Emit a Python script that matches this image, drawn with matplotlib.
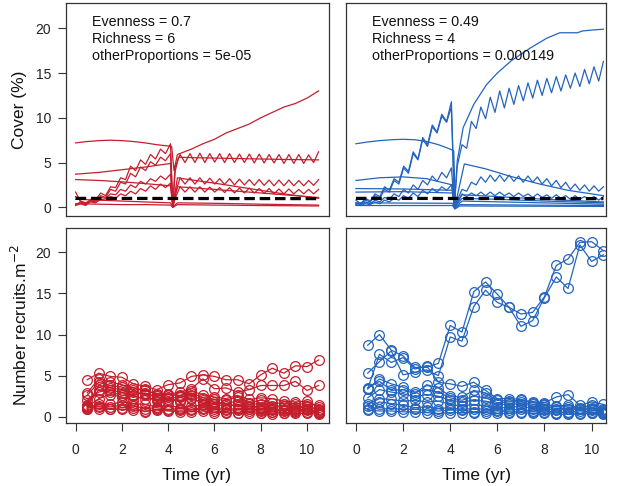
import numpy as np
import matplotlib
matplotlib.use("Agg")
import matplotlib.pyplot as plt

plt.rcParams['font.family'] = ['Liberation Sans', 'DejaVu Sans']

RED = '#C41E2D'
BLUE = '#2364BE'

# ---------------- data: top panels (cover %) ----------------
drop_t_red = 4.2
drop_t_blue = 4.18
red_t_pre = np.linspace(0, 4.1, 20)
red_t_post = np.linspace(4.3, 10.5, 30)
blue_t_pre = np.linspace(0, 4.05, 21)
blue_t_post = np.linspace(4.3, 10.5, 32)

# red (Evenness 0.7)
RA_t = [0, 0.5, 1, 1.5, 2, 2.5, 3, 3.5, 4.0, 4.15, 4.25, 4.4, 4.6, 5, 5.5, 6, 6.5, 7, 7.5, 8, 8.5, 9, 9.5, 10, 10.5]
RA_v = [7.2, 7.35, 7.45, 7.5, 7.45, 7.35, 7.2, 7.0, 6.85, 6.8, 4.1, 5.9, 6.1, 6.5, 7.1, 7.6, 8.3, 8.8, 9.3, 10.0, 10.6, 11.2, 11.6, 12.2, 13.0]

RB_pre = [0.3, 0.6, 0.3, 0.9, 0.8, 1.6, 1.3, 2.3, 2.2, 3.3, 3.1, 4.6, 4.1, 5.3, 4.8, 5.9, 5.4, 6.5, 6.0, 7.1]
RB_drop = 0.2
RB_post = [4.5, 5.9, 5.0, 6.0, 5.0, 6.05, 5.0, 6.0, 5.05, 6.0, 5.0, 6.0, 5.0, 5.95, 5.0,
           5.95, 4.95, 5.95, 4.95, 5.9, 4.95, 5.9, 4.9, 5.9, 4.9, 5.9, 4.9, 5.85, 5.0, 6.2]

RC_pre = [0.2, 0.4, 0.2, 0.7, 0.6, 1.3, 1.1, 2.0, 1.8, 2.8, 2.6, 3.8, 3.4, 4.5, 4.1, 5.1, 4.7, 5.6, 5.2, 6.0]
RC_drop = 0.1
RC_post_t = [4.3, 4.45, 5, 6, 7, 8, 9, 10.5]
RC_post_v = [4.0, 5.6, 5.55, 5.5, 5.45, 5.4, 5.35, 5.3]

RD_t = [0, 1, 2, 3, 4.1, 4.2, 4.4, 4.9, 6, 7, 8, 9, 10.5]
RD_v = [3.7, 3.9, 4.2, 4.5, 4.9, 0.1, 3.3, 3.1, 2.7, 2.3, 1.9, 1.5, 1.0]

RE_t = [0, 1, 2, 3, 4.1, 4.2, 4.4, 6, 8, 10.5]
RE_v = [3.1, 3.0, 2.85, 2.65, 2.4, 0.05, 2.3, 2.0, 1.6, 1.1]

RF_pre = [1.2, 0.7, 0.5, 0.8, 0.7, 1.1, 1.0, 1.5, 1.4, 2.0, 1.8, 2.5, 2.2, 2.9, 2.6, 3.2, 2.9, 3.5, 3.1, 3.7]
RF_drop = 0.0
RF_post = [1.5, 3.3, 2.6, 3.3, 2.6, 3.3, 2.6, 3.25, 2.6, 3.2, 2.55, 3.2, 2.5, 3.15, 2.5,
           3.1, 2.45, 3.1, 2.45, 3.05, 2.4, 3.05, 2.4, 3.05, 2.4, 3.0, 2.4, 3.0, 2.45, 3.1]

RG_pre = [1.7, 0.6, 0.4, 0.6, 0.5, 0.9, 0.8, 1.2, 1.0, 1.5, 1.3, 1.8, 1.5, 2.1, 1.8, 2.4, 2.0, 2.6, 2.2, 2.7]
RG_drop = 0.0
RG_post = [1.0, 2.3, 1.7, 2.3, 1.7, 2.3, 1.7, 2.25, 1.7, 2.2, 1.65, 2.2, 1.6, 2.15, 1.6,
           2.15, 1.6, 2.1, 1.55, 2.1, 1.5, 2.05, 1.5, 2.05, 1.5, 2.0, 1.5, 2.0, 1.5, 2.0]

RH_t = [0, 1, 2, 3, 4.1, 4.2, 4.4, 6, 8, 10.5]
RH_v = [0.9, 0.8, 0.7, 0.6, 0.5, 0.05, 0.5, 0.45, 0.35, 0.25]
RI_t = [0, 1, 2, 3, 4.1, 4.2, 4.4, 6, 8, 10.5]
RI_v = [0.4, 0.35, 0.3, 0.3, 0.25, 0.0, 0.3, 0.25, 0.2, 0.15]

dash_t = [0, 10.5]
red_dash_v = [1.0, 0.97]
blue_dash_v = [1.0, 0.97]

# blue (Evenness 0.49)
BA_t = [0, 0.5, 1, 1.5, 2, 2.5, 3, 3.5, 4.0, 4.15, 4.22, 4.6, 5.5, 6.5, 7.8, 9, 10.5]
BA_v = [7.1, 7.3, 7.45, 7.55, 7.6, 7.55, 7.35, 7.0, 6.5, 6.3, 0.3, 4.85, 4.3, 3.5, 2.6, 1.9, 1.3]

BB_pre = [0.8, 0.4, 1.0, 0.7, 1.5, 1.2, 2.3, 1.9, 3.2, 2.8, 4.6, 4.0, 6.2, 5.4, 7.8, 7.0, 9.2, 8.4, 10.4, 9.6, 11.8]
BB_drop = 0.2
BB_post = [4.6, 7.0, 6.6, 9.6, 8.8, 11.2, 9.9, 12.3, 10.6, 13.0, 11.1, 13.3, 11.5, 13.6, 11.9, 13.9,
           12.2, 14.2, 12.5, 14.4, 12.8, 14.6, 13.0, 14.8, 13.3, 15.0, 13.5, 15.4, 13.8, 15.7, 14.1, 16.3]

BC_pre = [0.5, 0.3, 0.8, 0.6, 1.3, 1.0, 2.0, 1.7, 3.0, 2.6, 4.4, 3.8, 6.0, 5.3, 7.6, 6.8, 9.0, 8.3, 10.2, 9.5, 11.2]
BC_drop = 0.3
BC_post_t = [4.3, 4.55, 5.0, 5.54, 6.0, 6.6, 7.0, 7.4, 8.1, 8.65, 9.0, 9.4, 9.6, 10.0, 10.5]
BC_post_v = [5.2, 8.9, 11.5, 13.7, 15.0, 16.4, 17.1, 17.8, 18.9, 19.5, 19.5, 19.5, 19.7, 19.8, 19.9]

BD_pre_t = [0, 1, 2, 3, 4.1]
BD_pre_v = [3.0, 3.3, 3.4, 3.2, 2.5]
BD_drop = 0.1
BD_post = [0.8, 2.0, 1.8, 2.8, 2.5, 3.4, 2.8, 3.6, 2.9, 3.6, 2.9, 3.6, 2.9, 3.5, 2.8, 3.5,
           2.8, 3.4, 2.6, 3.2, 2.4, 3.0, 2.2, 2.8, 2.0, 2.6, 1.9, 2.5, 1.8, 2.4, 1.8, 2.3]

BE_pre = [0.4, 0.3, 0.6, 0.4, 0.8, 0.6, 1.1, 0.9, 1.5, 1.2, 2.0, 1.6, 2.5, 2.0, 3.0, 2.5, 3.5, 2.9, 3.9, 3.3, 4.4]
BE_drop = 0.1
BE_post = [0.5, 1.5, 1.2, 1.6, 1.3, 1.7, 1.3, 1.7, 1.3, 1.7, 1.3, 1.6, 1.2, 1.6, 1.2, 1.5,
           1.1, 1.5, 1.1, 1.4, 1.0, 1.4, 1.0, 1.3, 0.9, 1.3, 0.9, 1.2, 0.9, 1.2, 0.8, 1.2]

BF_pre = [0.3, 0.2, 0.4, 0.3, 0.6, 0.4, 0.8, 0.6, 1.0, 0.8, 1.3, 1.0, 1.6, 1.2, 1.9, 1.5, 2.1, 1.7, 2.3, 1.9, 2.5]
BF_drop = 0.0
BF_post_t = [4.5, 6, 8, 10.5]
BF_post_v = [1.4, 1.2, 0.9, 0.6]

BG_t = [0, 2, 4.1, 4.2, 4.5, 6, 8, 10.5]
BG_v = [2.1, 2.05, 1.9, 0.1, 1.0, 0.9, 0.7, 0.5]
BH_t = [0, 2, 4.1, 4.2, 4.5, 10.5]
BH_v = [1.7, 1.75, 1.6, 0.0, 0.7, 0.35]
BI_t = [0, 4.1, 4.2, 4.4, 10.5]
BI_v = [0.5, 0.45, -0.1, 0.3, 0.2]
BJ_t = [0, 4.1, 4.2, 4.4, 10.5]
BJ_v = [0.2, 0.2, -0.2, 0.15, 0.1]

# ---------------- data: bottom panels (recruits) ----------------
rec_t = np.arange(0.5, 10.51, 0.5)
red_recruits = [
    [4.5, 5.3, 4.9, 4.8, 4.0, 3.7, 3.3, 3.9, 4.1, 4.9, 5.1, 4.9, 4.5, 4.5, 4.0, 5.1, 5.9, 5.3, 6.2, 6.1, 6.9],
    [2.9, 4.6, 4.2, 3.9, 3.5, 3.2, 2.8, 2.7, 3.0, 3.4, 4.6, 3.4, 3.5, 3.0, 3.3, 3.8, 3.8, 3.8, 4.3, 3.2, 3.8],
    [2.6, 4.2, 3.8, 3.6, 3.2, 3.4, 2.6, 2.8, 2.5, 3.1, 2.7, 2.4, 2.2, 2.6, 2.1, 2.3, 2.2, 1.9, 1.8, 1.9, 1.2],
    [1.4, 3.8, 3.5, 3.3, 3.0, 2.8, 2.5, 2.7, 2.6, 2.9, 2.3, 2.1, 2.0, 2.4, 1.7, 2.0, 1.7, 1.6, 1.6, 1.5, 1.4],
    [1.3, 3.3, 3.0, 2.6, 2.5, 2.2, 2.1, 2.2, 2.4, 2.6, 2.0, 1.8, 1.6, 1.9, 1.5, 1.6, 1.3, 1.3, 1.2, 1.3, 0.9],
    [1.2, 2.2, 2.7, 2.4, 2.0, 2.6, 1.9, 1.9, 2.0, 2.1, 1.8, 1.5, 1.3, 1.5, 1.3, 1.2, 1.1, 1.3, 1.0, 1.2, 0.8],
    [1.0, 1.6, 1.5, 1.8, 1.6, 1.5, 1.2, 1.4, 1.1, 1.3, 1.4, 1.2, 0.9, 1.0, 1.0, 0.8, 0.9, 0.7, 0.9, 0.9, 0.6],
    [1.2, 1.3, 1.2, 1.4, 1.3, 1.0, 1.1, 0.9, 1.0, 0.9, 1.1, 0.9, 0.8, 0.8, 0.9, 0.7, 0.6, 0.8, 0.7, 0.8, 0.5],
    [1.1, 1.2, 1.0, 1.1, 1.1, 0.6, 0.9, 0.8, 0.8, 0.8, 0.9, 0.7, 0.6, 0.5, 0.7, 0.5, 0.6, 0.5, 0.6, 0.6, 0.4],
    [2.0, 3.0, 3.3, 2.9, 2.7, 2.9, 2.3, 2.4, 1.8, 2.3, 1.6, 1.6, 1.6, 1.2, 1.2, 1.0, 0.8, 1.0, 0.8, 0.9, 0.7],
    [0.9, 1.0, 0.9, 0.9, 0.8, 0.7, 0.8, 0.7, 0.6, 0.6, 0.7, 0.5, 0.5, 0.4, 0.5, 0.4, 0.3, 0.4, 0.4, 0.4, 0.3],
]
blue_recruits = [
    [8.7, 10.0, 8.1, 7.4, 6.0, 6.0, 6.5, 11.1, 10.3, 15.2, 16.4, 14.9, 13.3, 12.5, 12.7, 14.6, 18.4, 19.2, 21.2, 21.3, 20.2],
    [5.3, 6.7, 8.0, 5.1, 5.4, 5.7, 5.0, 9.7, 9.2, 13.4, 15.4, 13.9, 13.3, 11.0, 11.7, 14.5, 17.0, 15.6, 20.9, 18.9, 19.7],
    [3.4, 7.6, 6.6, 7.2, 5.8, 6.2, 4.2, 4.0, 3.7, 4.2, 3.2, 2.2, 2.2, 2.1, 1.8, 1.7, 2.4, 2.7, 1.4, 1.8, 1.5],
    [3.5, 4.3, 3.2, 3.3, 2.8, 3.9, 3.5, 2.5, 2.4, 3.2, 2.9, 2.0, 1.9, 2.0, 1.7, 1.5, 1.3, 1.4, 1.1, 1.4, 1.0],
    [3.4, 4.6, 4.0, 3.6, 3.0, 3.3, 3.0, 2.3, 2.0, 2.5, 2.3, 1.7, 1.8, 1.8, 1.5, 1.4, 1.2, 1.2, 1.0, 1.1, 0.8],
    [2.3, 3.3, 3.0, 2.8, 2.4, 2.7, 2.5, 2.0, 1.8, 2.0, 1.9, 1.5, 1.5, 1.6, 1.3, 1.2, 1.0, 1.0, 0.9, 1.0, 0.7],
    [1.5, 2.2, 2.1, 1.9, 2.0, 1.8, 1.9, 1.5, 1.3, 1.5, 1.3, 1.1, 1.1, 1.3, 1.0, 1.0, 0.8, 0.9, 0.9, 0.8, 0.6],
    [1.0, 1.8, 1.6, 1.4, 1.1, 1.2, 1.0, 1.1, 0.9, 1.0, 0.9, 0.8, 0.8, 0.9, 0.7, 0.8, 0.5, 0.6, 0.7, 0.6, 0.4],
    [1.3, 0.9, 1.0, 0.9, 0.9, 0.8, 0.7, 0.8, 0.8, 0.6, 0.7, 0.7, 0.6, 0.6, 0.6, 0.6, 0.5, 0.5, 0.4, 0.5, 0.5],
    [0.8, 0.7, 0.7, 0.6, 0.6, 0.5, 0.4, 0.5, 0.5, 0.5, 0.5, 0.4, 0.4, 0.5, 0.4, 0.4, 0.3, 0.3, 0.3, 0.4, 0.3],
]

red_text = ["Evenness = 0.7", "Richness = 6", "otherProportions = 5e-05"]
blue_text = ["Evenness = 0.49", "Richness = 4", "otherProportions = 0.000149"]
x_ticks = [0, 2, 4, 6, 8, 10]
y_ticks = [0, 5, 10, 15, 20]


def join(*parts):
    t, v = [], []
    for pt, pv in parts:
        t += list(pt)
        v += list(pv)
    return t, v


red_lines = [
    (RA_t, RA_v),
    join((red_t_pre, RB_pre), ([drop_t_red], [RB_drop]), (red_t_post, RB_post)),
    join((red_t_pre, RC_pre), ([drop_t_red], [RC_drop]), (RC_post_t, RC_post_v)),
    (RD_t, RD_v),
    (RE_t, RE_v),
    join((red_t_pre, RF_pre), ([drop_t_red], [RF_drop]), (red_t_post, RF_post)),
    join((red_t_pre, RG_pre), ([drop_t_red], [RG_drop]), (red_t_post, RG_post)),
    (RH_t, RH_v),
    (RI_t, RI_v),
]
blue_lines = [
    (BA_t, BA_v),
    join((blue_t_pre, BB_pre), ([drop_t_blue], [BB_drop]), (blue_t_post, BB_post)),
    join((blue_t_pre, BC_pre), ([drop_t_blue], [BC_drop]), (BC_post_t, BC_post_v)),
    join((BD_pre_t, BD_pre_v), ([drop_t_blue], [BD_drop]), (blue_t_post, BD_post)),
    join((blue_t_pre, BE_pre), ([drop_t_blue], [BE_drop]), (blue_t_post, BE_post)),
    join((blue_t_pre, BF_pre), ([drop_t_blue], [BF_drop]), (BF_post_t, BF_post_v)),
    (BG_t, BG_v),
    (BH_t, BH_v),
    (BI_t, BI_v),
    (BJ_t, BJ_v),
]

W, H = 617, 486
fig = plt.figure(figsize=(W / 100, H / 100), dpi=100)


def ax_at(l, r, top, bot):
    return fig.add_axes([l / W, 1 - bot / H, (r - l) / W, (bot - top) / H])


ax_tl = ax_at(65.7, 328.5, 2.7, 216)
ax_tr = ax_at(346, 606, 2.7, 216)
ax_bl = ax_at(65.7, 328.5, 228, 423.3)
ax_br = ax_at(346, 606, 228, 423.3)

for ax in (ax_tl, ax_tr, ax_bl, ax_br):
    for s in ax.spines.values():
        s.set_color('#333333')
        s.set_linewidth(0.9)
    ax.tick_params(axis='both', length=5.5, width=0.8, color='#333333',
                   labelsize=10, labelcolor='#222222')

ax_tl.set_xlim(-0.43, 10.93)
ax_bl.set_xlim(-0.43, 10.93)
ax_tr.set_xlim(-0.42, 10.61)
ax_br.set_xlim(-0.42, 10.61)
for ax in (ax_tl, ax_tr):
    ax.set_ylim(-0.97, 22.86)
for ax in (ax_bl, ax_br):
    ax.set_ylim(-0.80, 22.96)

# top panels
for t, v in red_lines:
    ax_tl.plot(t, v, color=RED, lw=0.9)
for t, v in blue_lines:
    ax_tr.plot(t, v, color=BLUE, lw=0.9)
ax_tl.plot(dash_t, red_dash_v, color='black', lw=2.3, ls=(0, (3.3, 1.5)))
ax_tr.plot(dash_t, blue_dash_v, color='black', lw=2.3, ls=(0, (3.3, 1.5)))

# bottom panels
for v in red_recruits:
    ax_bl.plot(rec_t, v, color=RED, lw=0.9, marker='o', ms=7, mfc='none', mew=0.9)
for v in blue_recruits:
    ax_br.plot(rec_t, v, color=BLUE, lw=0.9, marker='o', ms=7, mfc='none', mew=0.9)

# ticks
for ax in (ax_tl, ax_tr):
    ax.set_xticks([])
for ax in (ax_tr, ax_br):
    ax.set_yticks([])
for ax in (ax_tl, ax_bl):
    ax.set_yticks(y_ticks)
    ax.tick_params(axis='y', pad=5)
for ax in (ax_bl, ax_br):
    ax.set_xticks(x_ticks)
    ax.tick_params(axis='x', pad=9)

# annotations
for lines, x0 in ((red_text, 91.7), (blue_text, 371.7)):
    for i, s in enumerate(lines):
        fig.text(x0 / W, 1 - (26.5 + 16.8 * i) / H, s, fontsize=10.3,
                 ha='left', va='baseline', color='#111111')

fig.text(20 / W, 1 - 110 / H, "Cover (%)", rotation=90, fontsize=12.5,
         ha='center', va='center', color='#111111')
fig.text(20 / W, 1 - 325 / H, "Number recruits.m$^{-2}$", rotation=90, fontsize=12.5,
         ha='center', va='center', color='#111111')
fig.text(197 / W, 1 - 475 / H, "Time (yr)", fontsize=12.5, ha='center', va='center', color='#111111')
fig.text(476 / W, 1 - 475 / H, "Time (yr)", fontsize=12.5, ha='center', va='center', color='#111111')

fig.savefig("out.png", dpi=100)
